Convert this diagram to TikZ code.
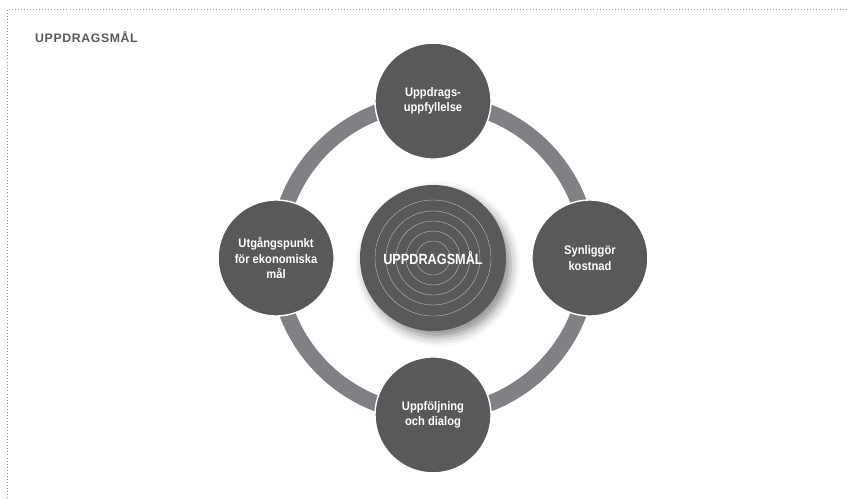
\documentclass[tikz,border=0pt]{standalone}
\usepackage{fontspec}
\setmainfont{Liberation Sans}
\newfontfamily\figtitlefont{Liberation Sans}[LetterSpace=5]
\newfontfamily\figcondfont{Liberation Sans}[FakeStretch=0.9]
\newfontfamily\fighubfont{Liberation Sans}[FakeStretch=0.86]
\usetikzlibrary{positioning,backgrounds,shadows.blur}
\definecolor{figdark}{HTML}{58595B}
\definecolor{figgray}{HTML}{808184}
\tikzset{
  figfont/.style={font=\figcondfont\fontsize{10.6}{13}\selectfont\bfseries},
  figcircle/.style={circle, fill=figdark, draw=white, line width=1.2pt, text=white,
    align=center, minimum size=3.48cm, inner sep=0pt},
  fighub/.style={circle, fill=figdark, minimum size=4.38cm, inner sep=0pt, text=white,
    font=\fighubfont\fontsize{12.6}{15}\selectfont\bfseries,
    blur shadow={shadow xshift=0.14cm, shadow yshift=-0.18cm,
      shadow blur radius=0.28cm, shadow opacity=45},
    path picture={
      \foreach \r in {17,27,37,47,58}
        \draw[figrings] (path picture bounding box.center) circle[radius=\r*0.03cm];
    }},
  figrings/.style={draw=gray!55, line width=0.35pt},
  figring/.style={draw=figgray, line width=0.48cm},
  figframe/.style={draw=gray!80, dotted, line width=0.6pt},
  figtitle/.style={anchor=west, inner sep=0pt, text=figdark,
    font=\figtitlefont\fontsize{10.5}{12}\selectfont\bfseries},
}
\begin{document}
\begin{tikzpicture}[x=0.03cm, y=-0.03cm, figfont, node distance=0.75cm]
  \useasboundingbox (0,0) rectangle (847,498);
  % dotted frame, top and left only
  \draw[figframe] (847,9) -- (7,9) -- (7,498);
  \node[figtitle] (title) at (35,37) {UPPDRAGSMÅL};

  % hub and the four goals around it
  \node[fighub] (hub) at (433,258) {UPPDRAGSMÅL};
  \node[figcircle, above=of hub] (fulfil) {Uppdrags-\\uppfyllelse};
  \node[figcircle, right=of hub] (cost) {Synliggör\\kostnad};
  \node[figcircle, below=of hub] (follow) {Uppföljning\\och dialog};
  \node[figcircle, left=of hub] (econ) {Utgångspunkt\\för ekonomiska\\mål};

  % ring behind the goals
  \begin{scope}[on background layer]
    \draw[figring] (hub.center) circle[radius=4.68cm];
  \end{scope}
\end{tikzpicture}
\end{document}
